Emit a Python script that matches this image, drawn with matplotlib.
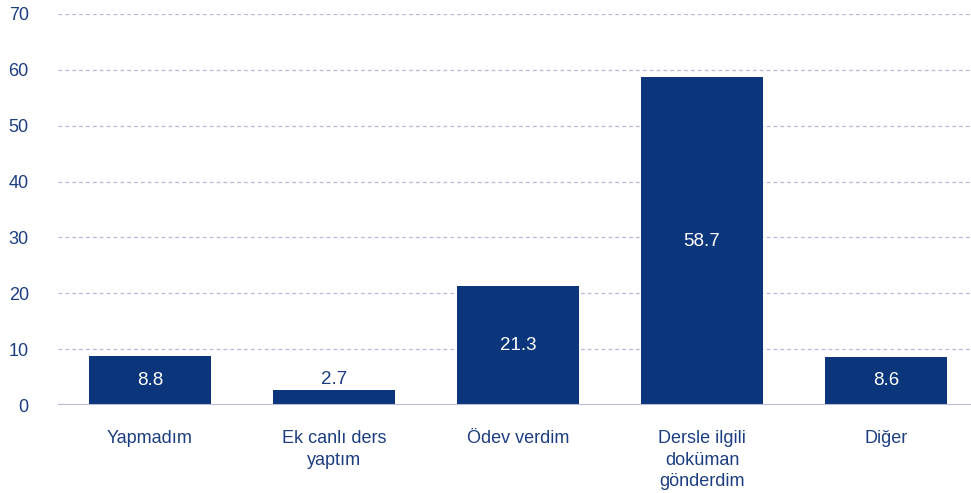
from matplotlib import pyplot as plt

categories = ["Yapmadım", "Ek canlı ders\nyaptım", "Ödev verdim",
              "Dersle ilgili\ndoküman\ngönderdim", "Diğer"]
values = [8.8, 2.7, 21.3, 58.7, 8.6]
yticks = [0, 10, 20, 30, 40, 50, 60, 70]

navy = "#0b367c"
text_col = "#1c3e80"
grid_col = "#b8b8d8"

plt.rcParams["font.family"] = ["Liberation Sans", "DejaVu Sans"]

fig = plt.figure(figsize=(9.71, 4.93), dpi=100)
ax = fig.add_axes([58 / 971, 1 - 405 / 493, 913 / 971, 391 / 493])

x = list(range(len(categories)))
bars = ax.bar(x, values, width=0.667, color=navy, zorder=3)

for xi, v in zip(x, values):
    if v < 5:
        ax.text(xi, v + 0.3, f"{v}", ha="center", va="bottom",
                color=text_col, fontsize=13.5)
    else:
        ax.text(xi, v / 2, f"{v}", ha="center", va="center",
                color="white", fontsize=13.5)

ax.set_xlim(-0.5, 4.462)
ax.set_ylim(0, 70)
ax.set_yticks(yticks)
ax.set_xticks(x)
ax.set_xticklabels(categories, fontsize=13, color=text_col, linespacing=1.35,
                   va="top")
ax.tick_params(axis="x", length=0, pad=18)
ax.tick_params(axis="y", length=0, pad=21, labelsize=13, labelcolor=text_col)

for t in yticks[1:]:
    ax.axhline(t, color=grid_col, linestyle=(0, (3, 2.5)), linewidth=0.9,
               zorder=1)
ax.axhline(0, color=grid_col, linewidth=1.5, zorder=4)

for s in ax.spines.values():
    s.set_visible(False)

fig.savefig("out.png", dpi=100)
